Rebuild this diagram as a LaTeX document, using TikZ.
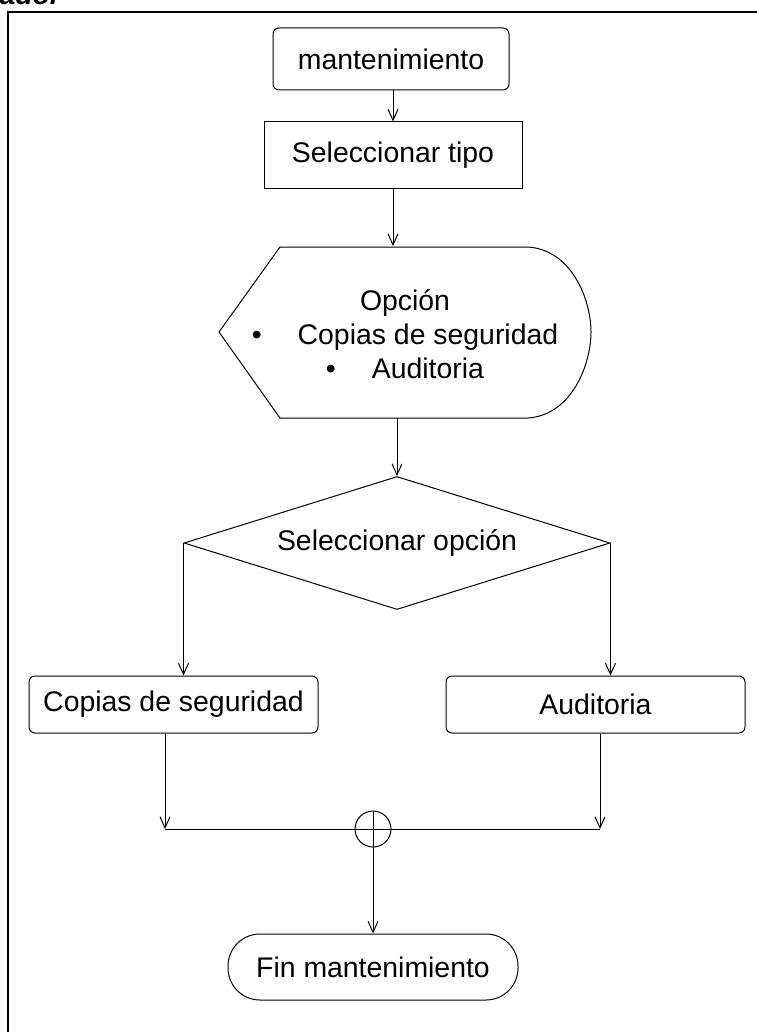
\documentclass[tikz,border=0pt]{standalone}
\usepackage{fontspec}
\setmainfont{Liberation Sans}
\usetikzlibrary{arrows.meta,shapes.geometric}
\begin{document}
\begin{tikzpicture}[x=0.5pt,y=-0.5pt,line width=0.5pt,
  every node/.style={font=\fontsize{14.2}{17}\selectfont, inner sep=0pt},
  caja/.style={draw, rectangle},
  cajar/.style={draw, rectangle, rounded corners=3pt},
  flecha/.style={-{Straight Barb[length=5.5pt,width=5pt]}}]
\useasboundingbox (0,0) rectangle (756,1032);
\draw[line width=1.1pt] (8,1040) -- (8,12) -- (765,12);
\node[anchor=base west, font=\fontsize{14.2}{17}\selectfont\bfseries\itshape] (rol) at (-1,5) {ador};
\node[cajar, minimum width=118pt, minimum height=31pt] (mant) at (391,59) {mantenimiento};
\node[caja, minimum width=129pt, minimum height=33.5pt] (tipo) at (393,155.5) {Seleccionar tipo};
\node[minimum width=186pt, minimum height=85.5pt] (opc) at (405,332) {};
\draw (219,332) -- (280,247) -- (528,247) .. controls (572,250) and (591,300) .. (591,332)
  .. controls (591,364) and (572,415) .. (528,418) -- (280,418) -- cycle;
\node[align=center] (opct) at (405,334) {Opción\\ \textbullet\hspace{18pt}Copias de seguridad\\ \textbullet\hspace{18pt}Auditoria};
\node[draw, diamond, aspect=3.2, minimum width=213pt, minimum height=66.5pt] (dec) at (397,543) {Seleccionar opción};
\node[cajar, minimum width=144.5pt, minimum height=28.5pt] (cop) at (173.5,704.5) {Copias de seguridad};
\node[cajar, minimum width=149.5pt, minimum height=28.5pt] (aud) at (595.5,704.5) {Auditoria};
\node[draw, circle, minimum size=18pt] (union) at (373,829) {};
\node[draw, rectangle, rounded corners=16pt, minimum width=145pt, minimum height=33pt] (fin) at (373,967) {Fin mantenimiento};
\coordinate (izq) at (165,829);
\coordinate (der) at (600,829);
\draw[flecha] (mant.south -| tipo.north) -- (tipo.north);
\draw[flecha] (tipo.south) -- (tipo.south |- opc.north);
\draw[flecha] (opc.south -| dec.north) -- (dec.north);
\draw[flecha] (dec.west) -- (dec.west |- cop.north);
\draw[flecha] (dec.east) -- (dec.east |- aud.north);
\draw[flecha] (cop.south -| izq) -- (izq);
\draw[flecha] (aud.south -| der) -- (der);
\draw (izq) -- (der);
\draw[flecha] (union.north) -- (fin.north);
\end{tikzpicture}
\end{document}
